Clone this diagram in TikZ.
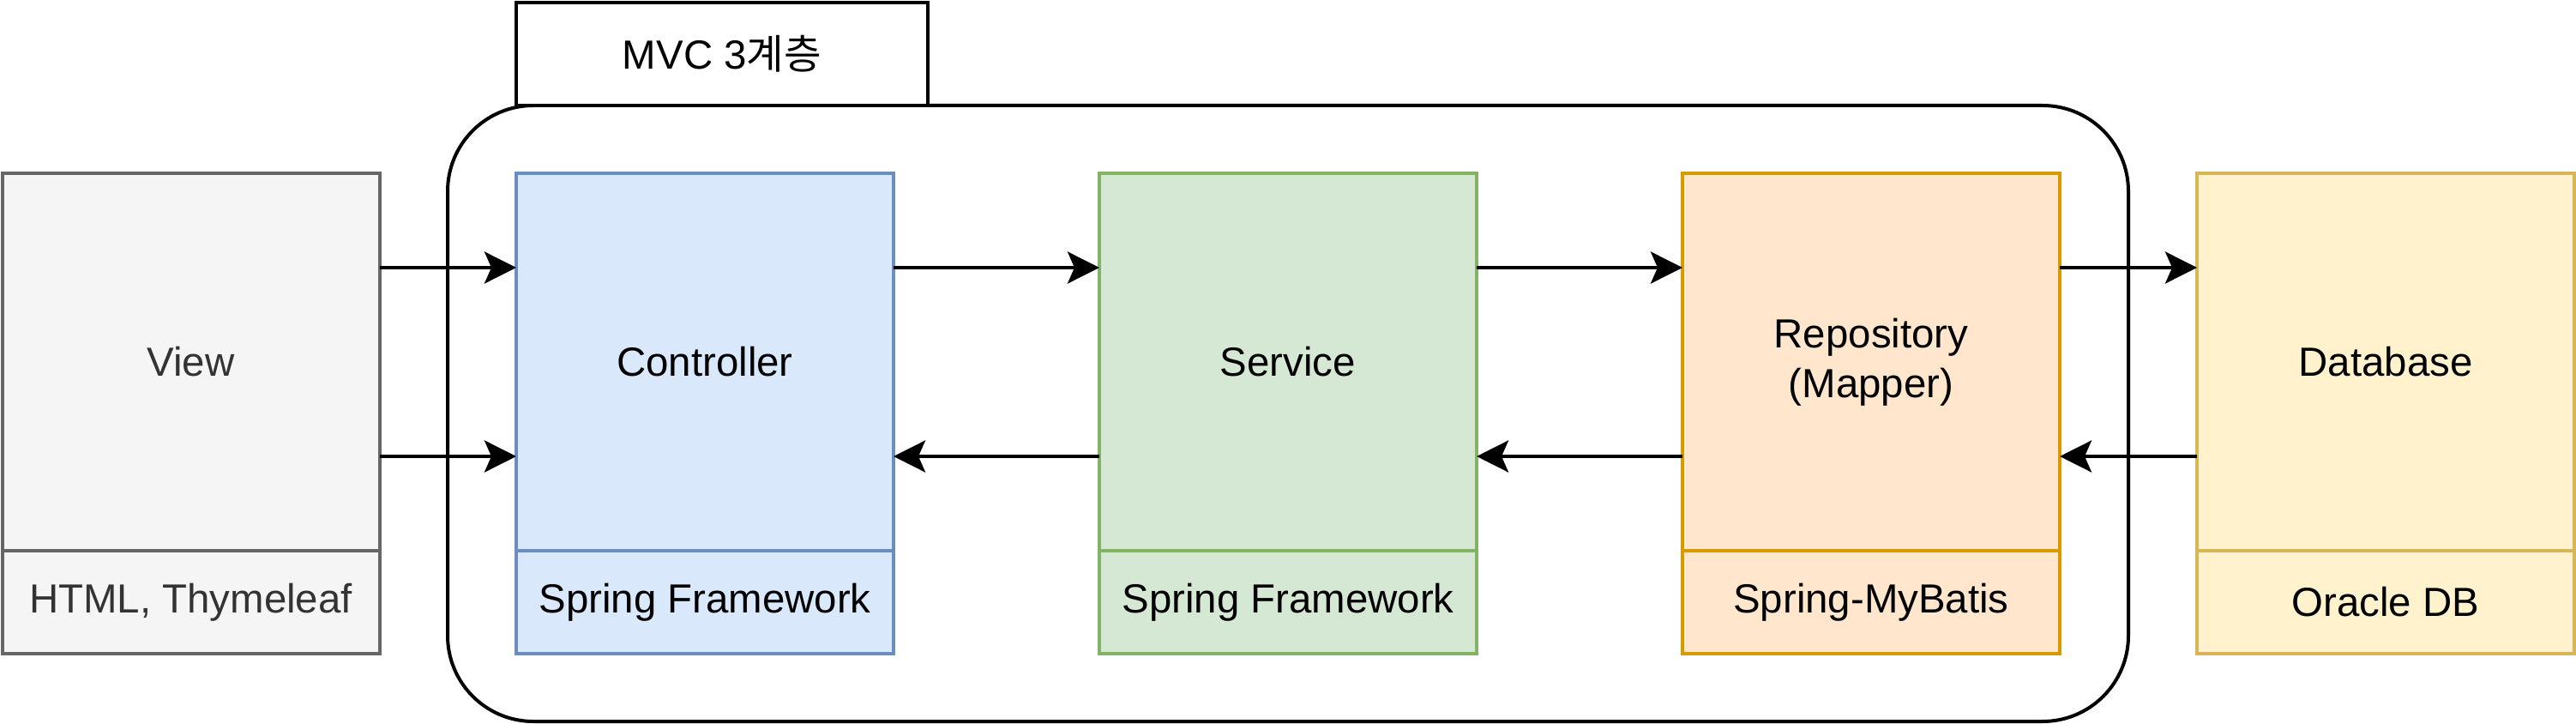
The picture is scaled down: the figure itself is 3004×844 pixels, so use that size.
\documentclass[tikz,border=0pt]{standalone}
\usepackage{fontspec}
\setmainfont{Liberation Sans}
\newfontfamily\krfont{Noto Sans CJK KR}
\usetikzlibrary{arrows.meta}
\definecolor{viewfill}{HTML}{F5F5F5}
\definecolor{viewline}{HTML}{666666}
\definecolor{viewtext}{HTML}{333333}
\definecolor{ctrlfill}{HTML}{DAE8FC}
\definecolor{ctrlline}{HTML}{6C8EBF}
\definecolor{svcfill}{HTML}{D5E8D4}
\definecolor{svcline}{HTML}{82B366}
\definecolor{repofill}{HTML}{FFE6CC}
\definecolor{repoline}{HTML}{D79B00}
\definecolor{dbfill}{HTML}{FFF2CC}
\definecolor{dbline}{HTML}{D6B656}
\begin{document}
\begin{tikzpicture}[x=0.5pt,y=-0.5pt,
  part/.style={draw, line width=2pt, inner sep=0pt, outer sep=0pt,
    minimum width=220pt, anchor=north west, align=center,
    font=\fontsize{23.7}{29}\selectfont},
  mainpart/.style={part, minimum height=220pt},
  subpart/.style={part, minimum height=60pt},
  view/.style={fill=viewfill, draw=viewline, text=viewtext},
  ctrl/.style={fill=ctrlfill, draw=ctrlline},
  svc/.style={fill=svcfill, draw=svcline},
  repo/.style={fill=repofill, draw=repoline},
  db/.style={fill=dbfill, draw=dbline},
  arr/.style={line width=2pt, -{Stealth[length=18.5pt,width=18.5pt,inset=4pt]}},
  container/.style={draw, line width=2pt, rounded corners=50pt, inner sep=0pt,
    outer sep=0pt, anchor=north west, minimum width=980pt, minimum height=359pt},
  titlebox/.style={draw, fill=white, line width=2pt, inner sep=0pt, outer sep=0pt,
    anchor=north west, minimum width=240pt, minimum height=60pt,
    font=\fontsize{23.7}{29}\selectfont}
]
\useasboundingbox (0,0) rectangle (3004,844);
\node[container] (mvc) at (522,123) {};
\node[titlebox] (title) at (602,3) {MVC 3{\krfont 계층}};

\node[mainpart, view] (view) at (2.5,202) {View};
\node[subpart, view] (viewsub) at (2.5,642) {HTML, Thymeleaf};
\node[mainpart, ctrl] (ctrl) at (602,202) {Controller};
\node[subpart, ctrl] (ctrlsub) at (602,642) {Spring Framework};
\node[mainpart, svc] (svc) at (1282,202) {Service};
\node[subpart, svc] (svcsub) at (1282,642) {Spring Framework};
\node[mainpart, repo] (repo) at (1962,202) {Repository\\(Mapper)};
\node[subpart, repo] (reposub) at (1962,642) {Spring-MyBatis};
\node[mainpart, db] (db) at (2562,202) {Database};
\node[subpart, db] (dbsub) at (2562,642) {Oracle DB};

\draw[arr] ([yshift=55pt]view.east) -- ([yshift=55pt]ctrl.west);
\draw[arr] ([yshift=-55pt]view.east) -- ([yshift=-55pt]ctrl.west);
\draw[arr] ([yshift=55pt]ctrl.east) -- ([yshift=55pt]svc.west);
\draw[arr] ([yshift=-55pt]svc.west) -- ([yshift=-55pt]ctrl.east);
\draw[arr] ([yshift=55pt]svc.east) -- ([yshift=55pt]repo.west);
\draw[arr] ([yshift=-55pt]repo.west) -- ([yshift=-55pt]svc.east);
\draw[arr] ([yshift=55pt]repo.east) -- ([yshift=55pt]db.west);
\draw[arr] ([yshift=-55pt]db.west) -- ([yshift=-55pt]repo.east);
\end{tikzpicture}
\end{document}
